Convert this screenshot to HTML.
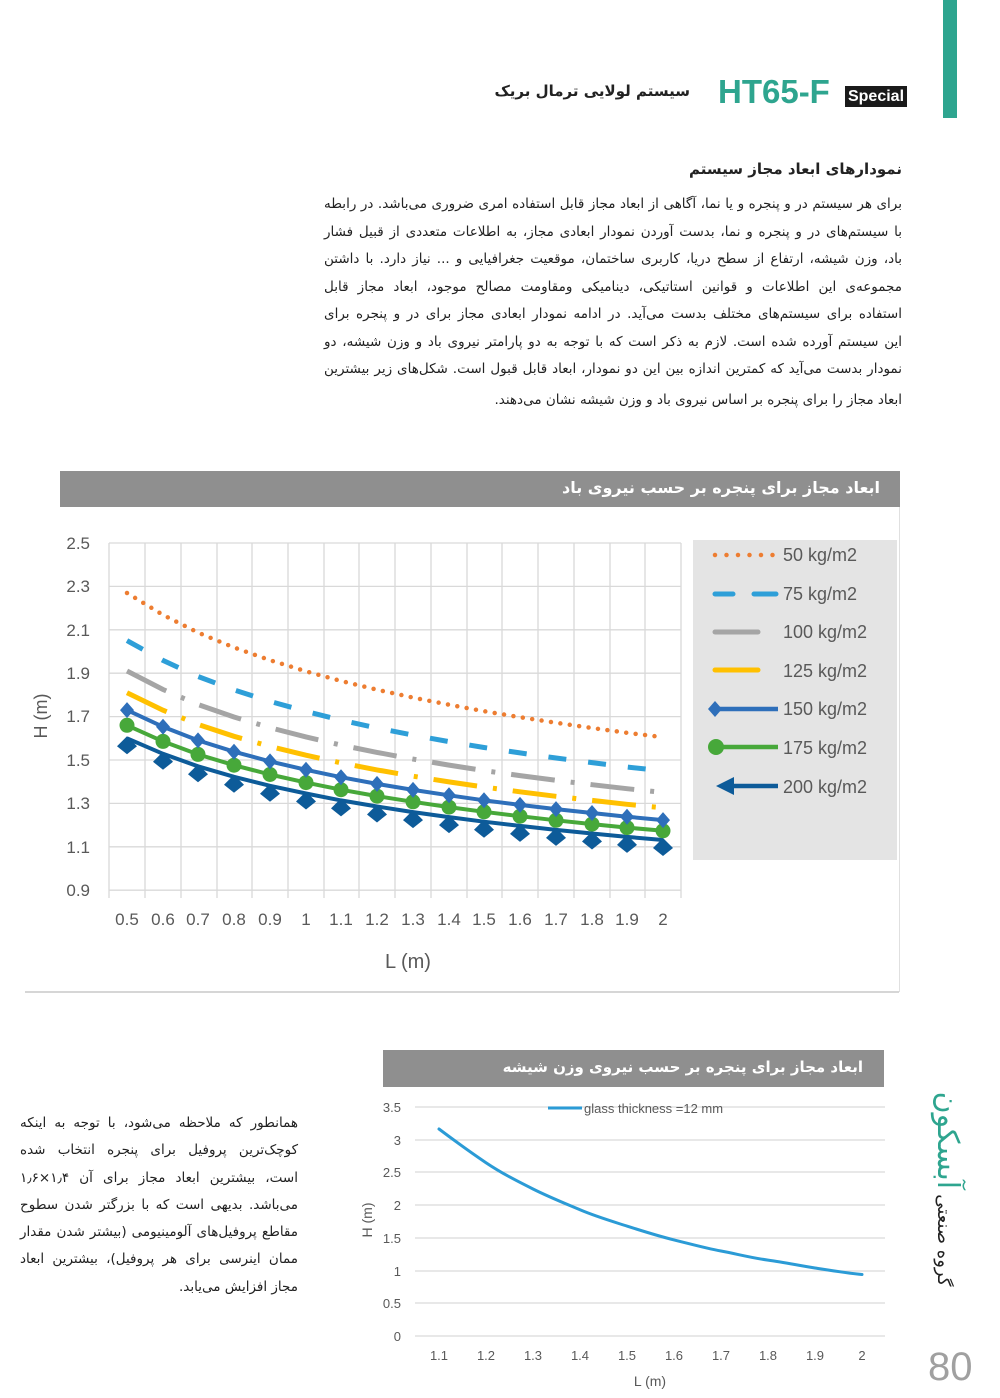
<!DOCTYPE html>
<html><head><meta charset="utf-8">
<style>
html,body{margin:0;padding:0;background:#fff;}
body{width:1000px;height:1398px;position:relative;overflow:hidden;font-family:"Liberation Sans","DejaVu Sans",sans-serif;}
.fa{font-family:"DejaVu Sans","Noto Sans CJK SC",sans-serif;direction:rtl;}
.abs{position:absolute;}
.para div{text-align:justify;text-align-last:justify;white-space:nowrap;}
.para div.last{text-align-last:right;}
</style></head><body>

<div class="abs" style="left:943px;top:0;width:14px;height:118px;background:#2ea58f"></div>
<div class="abs" style="left:845px;top:86px;width:62px;height:21px;background:#1a1a1a;color:#fff;font-weight:bold;font-size:16px;line-height:21px;text-align:center">Special</div>
<div class="abs" style="left:718px;top:72px;font-size:33px;font-weight:bold;color:#2ea58f;line-height:40px">HT65-F</div>
<div class="abs fa" style="left:440px;top:82px;width:250px;text-align:right;font-size:15px;font-weight:bold;color:#222;white-space:nowrap">سیستم لولایی ترمال بریک</div>

<div class="abs fa" style="left:600px;top:160px;width:302px;text-align:right;font-size:15px;font-weight:bold;color:#222">نمودارهای ابعاد مجاز سیستم</div>
<div class="abs fa para" style="left:324px;top:191px;width:578px;font-size:13.5px;line-height:27.5px;color:#222">
<div>برای هر سیستم در و پنجره و یا نما، آگاهی از ابعاد مجاز قابل استفاده امری ضروری می‌باشد. در رابطه</div>
<div>با سیستم‌های در و پنجره و نما، بدست آوردن نمودار ابعادی مجاز، به اطلاعات متعددی از قبیل فشار</div>
<div>باد، وزن شیشه، ارتفاع از سطح دریا، کاربری ساختمان، موقعیت جغرافیایی و ... نیاز دارد. با داشتن</div>
<div>مجموعه‌ی این اطلاعات و قوانین استاتیکی، دینامیکی ومقاومت مصالح موجود، ابعاد مجاز قابل</div>
<div>استفاده برای سیستم‌های مختلف بدست می‌آید. در ادامه نمودار ابعادی مجاز برای در و پنجره برای</div>
<div>این سیستم آورده شده است. لازم به ذکر است که با توجه به دو پارامتر نیروی باد و وزن شیشه، دو</div>
<div>نمودار بدست می‌آید که کمترین اندازه بین این دو نمودار، ابعاد قابل قبول است. شکل‌های زیر بیشترین</div>
<div class="last" style="margin-top:3px">ابعاد مجاز را برای پنجره بر اساس نیروی باد و وزن شیشه نشان می‌دهند.</div>
</div>

<!-- chart 1 -->
<div class="abs" style="left:60px;top:471px;width:840px;height:36px;background:#8f8f8f"></div>
<div class="abs fa" style="left:400px;top:478px;width:480px;text-align:right;font-size:16px;font-weight:bold;color:#fff">ابعاد مجاز برای پنجره بر حسب نیروی باد</div>
<div class="abs" style="left:899px;top:507px;width:1px;height:485px;background:#e0e0e0"></div>
<div class="abs" style="left:25px;top:991px;width:874px;height:2px;background:#d6d6d6"></div>

<svg class="abs" style="left:0;top:0" width="1000" height="1398" xmlns="http://www.w3.org/2000/svg">
<defs>
<marker id="dia" markerUnits="userSpaceOnUse" markerWidth="20" markerHeight="20" refX="10" refY="10"><path d="M10 2 L17 10 L10 18 L3 10Z" fill="#2e6fba"/></marker>
<marker id="cir" markerUnits="userSpaceOnUse" markerWidth="20" markerHeight="20" refX="10" refY="10"><circle cx="10" cy="10" r="7.5" fill="#47a83a"/></marker>
<marker id="dk" markerUnits="userSpaceOnUse" markerWidth="24" markerHeight="24" refX="12" refY="4"><path d="M12 2 L22 12 L12 20 L2 12Z" fill="#0d5b99"/></marker>
</defs>
<g stroke="#d9d9d9" stroke-width="1.3" fill="none">
<path d="M109 543H681M109 586.4H681M109 629.8H681M109 673.2H681M109 716.6H681M109 760H681M109 803.4H681M109 846.8H681M109 890.2H681"/>
<path d="M109 543V898M145 543V898M181 543V898M217 543V898M252 543V898M288 543V898M324 543V898M359 543V898M395 543V898M431 543V898M467 543V898M502 543V898M538 543V898M574 543V898M610 543V898M645 543V898M681 543V898"/>
</g>
<g font-size="17" fill="#595959" text-anchor="end" font-family="Liberation Sans, sans-serif">
<text x="90" y="549">2.5</text><text x="90" y="592">2.3</text><text x="90" y="636">2.1</text><text x="90" y="679">1.9</text><text x="90" y="722">1.7</text><text x="90" y="766">1.5</text><text x="90" y="809">1.3</text><text x="90" y="853">1.1</text><text x="90" y="896">0.9</text>
</g>
<g font-size="17" fill="#595959" text-anchor="middle" font-family="Liberation Sans, sans-serif">
<text x="127" y="925">0.5</text><text x="163" y="925">0.6</text><text x="198" y="925">0.7</text><text x="234" y="925">0.8</text><text x="270" y="925">0.9</text><text x="306" y="925">1</text><text x="341" y="925">1.1</text><text x="377" y="925">1.2</text><text x="413" y="925">1.3</text><text x="449" y="925">1.4</text><text x="484" y="925">1.5</text><text x="520" y="925">1.6</text><text x="556" y="925">1.7</text><text x="592" y="925">1.8</text><text x="627" y="925">1.9</text><text x="663" y="925">2</text>
<text x="408" y="968" font-size="20">L (m)</text>
</g>
<text transform="translate(47,716) rotate(-90)" font-size="18" fill="#595959" text-anchor="middle" font-family="Liberation Sans, sans-serif">H (m)</text>

<g fill="none">
<polyline stroke="#ed7d31" stroke-width="4.5" stroke-linecap="round" stroke-dasharray="0 9.5" points="127,593 163,614.9 198,632.6 234,647.5 270,660.2 306,671.3 341,681 377,689.7 413,697.6 449,704.7 484,711.2 520,717.2 556,722.8 592,728 627,732.8 663,737.2"/>
<polyline stroke="#2e9fd8" stroke-width="5" stroke-dasharray="18 22" points="127,640.6 163,660.4 198,676.5 234,689.9 270,701.4 306,711.4 341,720.1 377,728 413,735.1 449,741.6 484,747.5 520,752.9 556,758 592,762.6 627,767 663,770.9"/>
<polyline stroke="#a5a5a5" stroke-width="5" stroke-dasharray="44 16 4 16" points="127,671 163,689.5 198,704.5 234,717 270,727.7 306,736.9 341,745.1 377,752.4 413,759.1 449,765.1 484,770.6 520,775.6 556,780.3 592,784.7 627,788.7 663,792.4"/>
<polyline stroke="#ffc000" stroke-width="5" stroke-dasharray="44 16 4 16" points="127,692.7 163,710.2 198,724.4 234,736.3 270,746.4 306,755.2 341,762.9 377,769.9 413,776.2 449,781.9 484,787 520,791.8 556,796.3 592,800.4 627,804.3 663,807.8"/>
<polyline stroke="#0d5b99" stroke-width="4" marker-start="url(#dk)" marker-mid="url(#dk)" marker-end="url(#dk)" points="127,738.3 163,753.8 198,766.3 234,776.8 270,785.8 306,793.5 341,800.4 377,806.5 413,812.1 449,817.1 484,821.7 520,825.9 556,829.9 592,833.5 627,836.9 663,840"/>
<polyline stroke="#47a83a" stroke-width="4" marker-start="url(#cir)" marker-mid="url(#cir)" marker-end="url(#cir)" points="127,725.3 163,741.4 198,754.4 234,765.2 270,774.5 306,782.6 341,789.7 377,796.1 413,801.8 449,807.1 484,811.8 520,816.2 556,820.3 592,824.1 627,827.6 663,830.8"/>
<polyline stroke="#2e6fba" stroke-width="4" marker-start="url(#dia)" marker-mid="url(#dia)" marker-end="url(#dia)" points="127,710.1 163,726.8 198,740.4 234,751.7 270,761.4 306,769.8 341,777.2 377,783.9 413,789.9 449,795.3 484,800.3 520,804.9 556,809.1 592,813 627,816.7 663,820.1"/>
</g>

<!-- legend -->
<rect x="693" y="540" width="204" height="320" fill="#e4e4e4"/>
<g fill="none">
<line x1="715" y1="555" x2="774" y2="555" stroke="#ed7d31" stroke-width="4.5" stroke-linecap="round" stroke-dasharray="0 11.5"/>
<path d="M715 594H733M754 594H776" stroke="#2e9fd8" stroke-width="5" stroke-linecap="round"/>
<line x1="715" y1="632" x2="758" y2="632" stroke="#a5a5a5" stroke-width="5" stroke-linecap="round"/>
<line x1="715" y1="670" x2="758" y2="670" stroke="#ffc000" stroke-width="5" stroke-linecap="round"/>
<line x1="715" y1="709" x2="778" y2="709" stroke="#2e6fba" stroke-width="4.5"/>
<path d="M715 701 L722 709 L715 717 L708 709Z" fill="#2e6fba"/>
<line x1="715" y1="747" x2="778" y2="747" stroke="#47a83a" stroke-width="4.5"/>
<circle cx="716" cy="747" r="8" fill="#47a83a"/>
<line x1="725" y1="786" x2="778" y2="786" stroke="#0d5b99" stroke-width="4.5"/>
<path d="M716 786 L734 777 L734 795Z" fill="#0d5b99"/>
</g>
<g font-size="18" fill="#595959" font-family="Liberation Sans, sans-serif">
<text x="783" y="561">50 kg/m2</text><text x="783" y="600">75 kg/m2</text><text x="783" y="638">100 kg/m2</text><text x="783" y="677">125 kg/m2</text><text x="783" y="715">150 kg/m2</text><text x="783" y="754">175 kg/m2</text><text x="783" y="793">200 kg/m2</text>
</g>

<!-- chart 2 -->
<rect x="383" y="1050" width="501" height="37" fill="#8f8f8f"/>
<g stroke="#d9d9d9" stroke-width="1.2">
<path d="M415 1107H885M415 1140H885M415 1172H885M415 1205H885M415 1238H885M415 1271H885M415 1303H885M415 1336H885"/>
</g>
<g font-size="13" fill="#595959" text-anchor="end" font-family="Liberation Sans, sans-serif">
<text x="401" y="1112">3.5</text><text x="401" y="1145">3</text><text x="401" y="1177">2.5</text><text x="401" y="1210">2</text><text x="401" y="1243">1.5</text><text x="401" y="1276">1</text><text x="401" y="1308">0.5</text><text x="401" y="1341">0</text>
</g>
<g font-size="13" fill="#595959" text-anchor="middle" font-family="Liberation Sans, sans-serif">
<text x="439" y="1360">1.1</text><text x="486" y="1360">1.2</text><text x="533" y="1360">1.3</text><text x="580" y="1360">1.4</text><text x="627" y="1360">1.5</text><text x="674" y="1360">1.6</text><text x="721" y="1360">1.7</text><text x="768" y="1360">1.8</text><text x="815" y="1360">1.9</text><text x="862" y="1360">2</text>
<text x="650" y="1386" font-size="14">L (m)</text>
</g>
<text transform="translate(372,1220) rotate(-90)" font-size="14" fill="#595959" text-anchor="middle" font-family="Liberation Sans, sans-serif">H (m)</text>
<line x1="548" y1="1108" x2="582" y2="1108" stroke="#2b9bd6" stroke-width="3"/>
<text x="584" y="1113" font-size="13" fill="#595959" font-family="Liberation Sans, sans-serif">glass thickness =12 mm</text>
<path d="M439 1129 C455 1141 470 1152 486 1162.7 S517 1181 533 1189 S564 1203 580 1209.8 S611 1221 627 1226.1 S658 1236 674 1239.9 S705 1248 721 1251 S752 1258 768 1260.1 S799 1265.5 815 1268 S846 1273 862 1274.5" fill="none" stroke="#2b9bd6" stroke-width="3" stroke-linecap="round"/>
</svg>

<div class="abs fa" style="left:817px;top:1171px;width:260px;height:36px;transform:rotate(90deg);transform-origin:50% 50%;text-align:center;white-space:nowrap;line-height:36px">
<span style="font-size:18px;color:#222">گروه صنعتی</span> <span style="font-size:30px;color:#2ea58f">آبسکون</span>
</div>
<div class="abs" style="left:928px;top:1345px;font-size:40px;color:#a0a0a0;font-weight:300;line-height:44px">80</div>

<div class="abs fa" style="left:20px;top:1110px;width:278px;font-size:13.5px;line-height:27.3px;color:#222">
<div class="para">
<div>همانطور که ملاحظه می‌شود، با توجه به اینکه</div>
<div>کوچک‌ترین پروفیل برای پنجره انتخاب شده</div>
<div>است، بیشترین ابعاد مجاز برای آن ۱٫۴×۱٫۶</div>
<div>می‌باشد. بدیهی است که با بزرگتر شدن سطوح</div>
<div>مقاطع پروفیل‌های آلومینیومی (بیشتر شدن مقدار</div>
<div>ممان اینرسی برای هر پروفیل)، بیشترین ابعاد</div>
<div class="last">مجاز افزایش می‌یابد.</div>
</div></div>

<div class="abs fa" style="left:400px;top:1058px;width:463px;text-align:right;font-size:15px;font-weight:bold;color:#fff">ابعاد مجاز برای پنجره بر حسب نیروی وزن شیشه</div>

</body></html>
